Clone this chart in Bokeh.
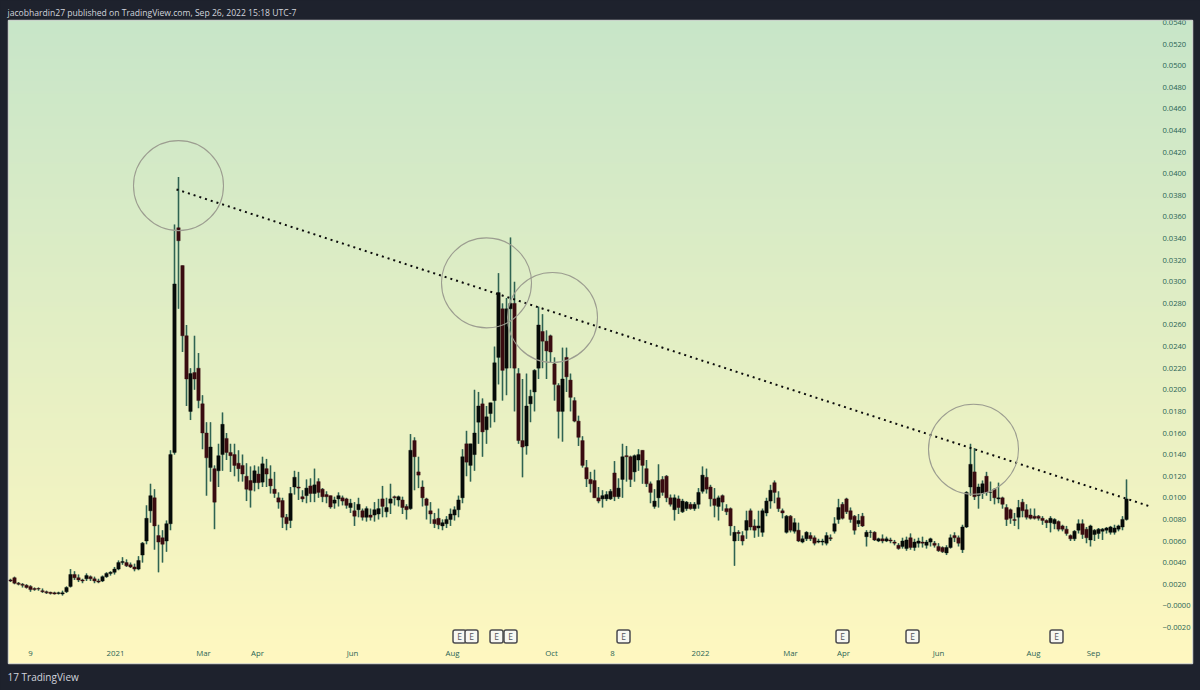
import numpy as np
from bokeh.plotting import figure
from bokeh.models import ColumnDataSource, FixedTicker, Title, LinearAxis
from bokeh.core.properties import value
from bokeh.embed import file_html
from bokeh.resources import INLINE

HEADER = "jacobhardin27 published on TradingView.com, Sep 26, 2022 15:18 UTC-7"
FOOTER = "17 TradingView"
UNIT = 0.001

opens = [2.4,2.6,2.1,2.0,1.9,1.8,1.6,1.6,1.4,1.3, 1.25,1.2,1.15,1.1,1.3,1.8,2.9,2.6,2.4,2.5,
 2.7,2.5,2.3,2.3,2.7,3.0,3.1,3.4,4.0,4.0, 3.8,3.6,3.4,4.7,6.0,8.8,10,6.5,6.3,6.0,
 7.6,14.2,35,31.5,25,18,21.6,22,18.7,16, 12.8,12.7,12.5,14,15.5,14.2,14,13.2,13,12,
 11.6,11.4,12.2,11.45,12.7,11.75,10.8,10,9.75,8.2, 7.9,11,11,10.1,10.2,11.1,10.4,11.5,10.8,10.3,
 10.2,9.5,9.9,10,9.9,9.1,8.8,8.9,8.8,8.2, 8.4,8.4,8.5,9.9,8.7,9.5,10.1,9.8,9.8,9.2,
 9,15.3,12.4,11,9.9,8.8,8,8.1,7.4,7.6, 8.0,8.4,8.9,10,15,13,14,17,18.7,16.3,
 17.8,19,23,27.5,22,27.5,28,21.5,15.3,14.8, 18.7,19.8,22,25.4,24.5,25,22.4,20.4,18,23,
 20.9,19,17.1,15.3,12.8,11.7,11.6,10,9.9,9.9, 9.9,12.3,10.1,11.7,13.9,13.8,12.4,13.5,14.4,12.7,
 11.3,9.2,10,11.7,12,10,8.9,9.9,8.7,9, 9.4,9,9.4,10.6,11.9,11,9.9,9.2,10.2,9,
 9,6,6.8,6.5,7,8.8,7.4,7.2,6.8,8.6, 9.7,11.4,10,8.8,6.8,8.3,6.9,7,5.9,6.2,
 6.5,6.3,5.9,5.9,5.8,6.3,6.9,8,9.4,9.9, 8.8,8.3,7.6,8.3,6.4,6.8,6.8,6,6.2,6,
 6.1,5.9,5.6,5.5,5.3,6.3,5.4,5.8,5.9,5.6, 5.9,5.8,5.5,5.4,4.9,5.4,6.5,6.3,5.2,7.3,
 11,12.4,10.2,10.4,12,10.5,10.8,9.9,10,9.1, 8.9,8,8.2,9.6,8.9,8.4,8.3,8.3,8.1,7.9,
 7.7,7.6,7.8,7.4,7.1,6.5,6.2,7,7.6,7.1, 6.1,6.6,6.7,6.9,7,6.8,6.8,7.1,7.3,8]

highs = [2.5,2.7,2.2,2.1,2.0,1.9,1.7,1.7,1.6,1.4, 1.3,1.3,1.3,1.4,1.8,3.4,3.2,2.9,2.5,3.0,
 2.8,2.7,2.5,2.8,3.1,3.2,3.6,4.2,4.5,4.3, 4.0,3.9,4.6,5.9,9.3,11.3,10.8,7.5,7.0,7.9,
 14.4,35.3,39.7,31.5,26,22,25,23.4,19.5,17, 17,13,15,17.9,16,15,15,14.4,14,13.2,
 12.9,13,12.9,13.8,13.6,13,12.4,10.5,10,8.5, 11,12.5,12.4,10.7,11.7,11.8,12.7,11.8,10.9,10.6,
 10.2,10.1,10.5,10.2,10,9.9,9.6,10,9,9.2, 9,9.6,9.9,11.1,10,11.3,10.2,10.2,10.1,9.4,
 15.9,15.6,13.8,11.6,10,9.6,8.6,9,8.0,8.3, 9.0,9.2,10.2,14.5,16.2,15,20,19.8,19.2,18.5,
 18.8,24,30.8,28,28.5,34.1,30,22,21,21.5, 20,21.9,27.7,27,25.5,25.1,23,20.6,23.9,23.9,
 21.5,19.3,17.6,15.7,13.5,12.4,12.6,11,10.7,10.6, 10.8,13.4,11.8,15,14.8,13.9,14,14.5,14.4,13.5,
 11.5,10.8,13.1,12,12.1,10.3,10.3,10.2,9.9,9.7, 9.6,9.6,10.9,12.9,12.7,11.2,10.9,10.2,10.3,9.4,
 9.1,7.4,7,6.9,8.8,9,8,8.8,9,10, 11.2,11.6,10.6,9,8.4,8.4,8.1,7.7,6.5,6.9,
 6.8,6.5,6.2,6.2,6.8,6.6,8.2,9.9,9.6,10, 9.1,8.4,8.5,8.6,7,7,6.9,6.3,6.6,6.4,
 6.3,6.1,5.8,6.3,6.4,6.7,6.2,6.3,6.4,6.1, 6.3,6,5.8,5.5,5.6,6.6,6.8,6.5,7.5,10.6,
 15,14.6,11.3,11.6,12.4,11.5,10.9,11.4,10.1,9.4, 9,8.6,9.8,9.9,9.4,9,9,8.4,8.3,8,
 8.3,8.1,7.9,7.5,7.4,6.6,7,8,8,7.3, 7.5,7.1,7.2,7.2,7.3,7.4,7.5,7.5,8.3,11.7]

lows = [2.2,2.0,1.9,1.7,1.6,1.3,1.4,1.4,1.2,1.1, 1.05,1.05,1.05,0.95,1.2,1.7,2.4,2.2,2.1,2.3,
 2.3,2.1,2.1,2.2,2.6,2.8,2.9,3.3,3.8,3.6, 3.5,3.2,3.3,4.0,5.7,7.7,5.2,3.1,4.0,5.0,
 7.0,14,27.5,23.5,18.5,17.2,20,18.3,14.5,10.2, 11.5,7.1,11,12.5,13.5,12.4,12,11.5,11.5,9.7,
 9.1,10.6,10.8,11,11,10.4,10,9,7.2,7, 7.2,10.3,9.8,9.6,9.5,9.6,9.6,10,9.6,9.5,
 9,9,9.2,9.3,9,8.6,7.4,8.2,7.9,7.8, 7.9,7.8,8,8.2,8.2,8.5,9.3,9.2,8.5,8,
 8.9,10.7,10.9,9.2,8,7.6,7.2,7.1,7.0,7.2, 7.4,7.9,8.2,9.5,12,11.5,12.5,15,13.8,15,
 16.5,17,20.5,19,19.5,22,18,15,11.9,14, 17,18,21,22,21,22.5,19,15.5,15.2,19.8,
 18,17,14.8,12.8,11,10.5,10,9.5,9.1,9.7, 9.8,9.7,9.9,10,11.5,11,11.5,12.5,11.3,11,
 9.5,9,9.1,10.2,9.6,9.2,7.9,8.5,8.6,8.8, 8.9,8.8,9,10.4,10.4,9.2,8.2,7.9,8.8,8.4,
 6.5,3.7,6,5.6,6.2,7,6.3,6.4,6.4,8.3, 9,9.5,8.7,8.1,6.7,6.8,6.7,5.9,5.8,6,
 6,5.6,5.8,5.6,5.6,6,6.7,7.6,8,8.5, 7.7,6.6,7.3,7.3,5.5,6.3,6,5.9,5.8,5.9,
 5.8,5.6,5.2,5.3,5.1,5.2,5.1,5.4,5.4,5.3, 5.5,5.4,5,4.9,4.7,5.3,5.9,5.5,4.9,7.2,
 10.2,9.8,9,9.9,10.2,9.7,9.4,9.5,9,7.4, 7.6,7.4,7.1,8.2,8,8,8,7.9,7.5,7.2,
 6.8,7.1,6.9,6.9,6.5,6,6,6.7,6.2,5.8, 5.5,6,6.2,6.1,6.7,6.6,6.6,6.9,7,7.9]

closes = [2.3,2.1,2.0,1.9,1.7,1.5,1.5,1.55,1.3,1.2, 1.15,1.1,1.2,1.2,1.7,2.9,2.6,2.4,2.3,2.8,
 2.5,2.3,2.2,2.7,3.0,3.1,3.4,4.0,4.1,3.7, 3.6,3.4,4.2,5.8,8.1,10.2,7.4,5.9,5.7,7.6,
 14.0,29.8,33.8,25,21,21.5,21,19,16,13.7, 14.7,9.6,13.9,16.8,14.2,13.9,13,12.7,12.2,10.8,
 10.7,12.5,11.4,13.15,12.2,11.1,10.4,9.6,8.2,7.6, 10.4,11.9,10.9,9.9,10.9,10.4,11.2,10.5,10.1,10.1,
 9.15,9.8,10.2,9.7,9.3,9.5,8.3,9.4,8.2,9, 8.2,8.9,9,9.2,9.1,9.9,10,10.1,9.1,8.9,
 14.4,13.8,12.1,10,9.3,8.5,7.6,7.5,7.7,8.0, 8.5,8.9,9.8,13.8,13.3,15,16,18.5,16.1,17.5,
 18.8,22.5,29,21.8,27.5,28,22,15.3,14.7,18.5, 19.4,21.8,26,24.5,23.6,23.5,20.5,18,21,21.2,
 19.3,17.1,15.6,13,11.75,11.3,10,9.7,10.2,10.3, 10.6,10.1,10.9,13.8,13.8,11.7,13.9,14,13,11.3,
 10.5,9.7,11.6,10.5,10,9.4,10,9.1,9.7,9.6, 9,9.4,10.5,12.1,10.8,9.9,9.3,10,9.6,8.7,
 7.4,6.8,6.7,6,7.9,7.3,7,7.4,8.8,9.7, 10.7,10.5,9,8.6,8.3,7,7.7,6,6.2,6.8,
 6.2,5.8,6,6,6.5,6.2,7.6,9.1,8.1,8.7, 8,7,7.9,7.4,6.8,6.8,6.1,6.2,6,6.2,
 6,5.8,5.3,6,6.1,5.4,5.9,6,5.8,5.9, 6.2,5.6,5.1,5,5.4,6.3,6.3,5.8,7.3,10.5,
 13.1,10.1,11,11.3,10.5,10.5,10,10,9.4,8, 8.1,7.9,9.1,8.8,8.2,8.1,8.1,8.1,7.9,7.7,
 8.1,8,7.1,7.1,6.7,6.2,6.9,7.6,6.6,6.3, 7.4,7,7.1,7.1,7.2,7.3,7.2,7.4,8,9.9]

assert len(opens) == len(highs) == len(lows) == len(closes), (len(opens), len(highs), len(lows), len(closes))

x_tick_pos = [5, 26.25, 48.25, 61.75, 85.5, 110.5, 135.25, 150.5, 172.5, 195, 208.25, 232, 255.75, 270.75]
x_tick_labels = ["9", "2021", "Mar", "Apr", "Jun", "Aug", "Oct", "8", "2022", "Mar", "Apr", "Jun", "Aug", "Sep"]
y_ticks = [-0.002, 0.0, 0.002, 0.004, 0.006, 0.008, 0.010, 0.012, 0.014, 0.016, 0.018, 0.020, 0.022, 0.024,
           0.026, 0.028, 0.030, 0.032, 0.034, 0.036, 0.038, 0.040, 0.042, 0.044, 0.046, 0.048, 0.050, 0.052, 0.054]
y_tick_labels = ["\u22120.0020", "\u22120.0000"] + ["%.4f" % t for t in y_ticks[2:]]

trend_idx = [41.5, 285]
trend_price = [0.03855, 0.00919]
circle_idx = [42, 119, 135.5, 240.75]
circle_price = [0.0389, 0.0299, 0.0267, 0.0145]
earn_idx = [112.25, 115.25, 121.5, 125, 153.25, 208, 225.5, 261.5]
earn_price = -0.00284

DARK = "#1e222d"
X_RANGE = (-0.5, 295.5)
Y_RANGE = (-0.00534, 0.05419)

p = figure(width=1200, height=690, output_backend="svg", toolbar_location=None,
           x_range=X_RANGE, y_range=Y_RANGE, x_axis_type=None, y_axis_type=None,
           min_border_left=8, min_border_right=8, min_border_top=20, min_border_bottom=27,
           background_fill_color="#fff8c2", border_fill_color=DARK,
           outline_line_color="#c9ccca", outline_line_width=1.5)
p.grid.visible = False

# background gradient
top, bot = np.array([200, 230, 201]), np.array([255, 248, 192])
n = 256
rows = []
for k in range(n):
    t = k / (n - 1)
    r, g, b = (bot * (1 - t) + top * t).astype(int)
    rows.append(255 << 24 | int(b) << 16 | int(g) << 8 | int(r))
img = np.array(rows, dtype=np.uint32).reshape(n, 1)
p.image_rgba(image=[img], x=X_RANGE[0], y=Y_RANGE[0], dw=X_RANGE[1] - X_RANGE[0], dh=Y_RANGE[1] - Y_RANGE[0])

# candles
idx = list(range(len(opens)))
o = [v * UNIT for v in opens]
h = [v * UNIT for v in highs]
l = [v * UNIT for v in lows]
c = [v * UNIT for v in closes]
cols = ["#070b09" if cc >= oo else "#3a0c11" for oo, cc in zip(o, c)]
src = ColumnDataSource(dict(x=idx, o=o, h=h, l=l, c=c, col=cols))
p.segment("x", "h", "x", "l", source=src, line_color="#3a6f5d", line_width=2.6, line_alpha=0.38)
p.segment("x", "h", "x", "l", source=src, line_color="#2f6352", line_width=1)
p.vbar("x", 0.85, "o", "c", source=src, fill_color="col", line_color="col", line_width=0.4)

# trend line and circles
p.line(trend_idx, trend_price, line_color="#0c0c0c", line_width=2, line_dash="2 4")
p.scatter(circle_idx, circle_price, marker="circle", size=90, fill_alpha=0, line_color="#9c9d90", line_width=1.1)

# earnings marks
ex = earn_idx
ey = [earn_price] * len(ex)
p.rect(ex, ey, width=13, height=13, width_units="screen", height_units="screen", border_radius=2,
       fill_color="#f7f7f2", line_color="#4b4b4f", line_width=1.5)
p.text(ex, ey, text=["E"] * len(ex), text_align="center", text_baseline="middle",
       text_font=value("Open Sans"), text_font_size="8.5px", text_color="#55555a")

# axes painted inside the frame, as on the original chart
tick_y = LinearAxis(fixed_location=286, ticker=FixedTicker(ticks=y_ticks),
                    major_label_overrides=dict(zip(y_ticks, y_tick_labels)),
                    major_tick_line_color=None, minor_tick_line_color=None, axis_line_color=None,
                    major_label_standoff=2, major_label_text_font="Open Sans",
                    major_label_text_font_size="7.6px", major_label_text_color="#2a6455")
p.add_layout(tick_y, "right")
tick_x = LinearAxis(fixed_location=-0.00325, ticker=FixedTicker(ticks=x_tick_pos),
                    major_label_overrides=dict(zip(x_tick_pos, x_tick_labels)),
                    major_tick_line_color=None, minor_tick_line_color=None, axis_line_color=None,
                    major_label_standoff=1, major_label_text_font="Open Sans",
                    major_label_text_font_size="7.8px", major_label_text_color="#2a6455")
p.add_layout(tick_x, "below")

# publisher strip on the dark border
p.add_layout(Title(text=HEADER, align="left", offset=-1, standoff=3, text_font="Open Sans",
                   text_font_size="8.6px", text_font_style="normal", text_color="#d1d4dc"), "above")
p.add_layout(Title(text=FOOTER, align="left", offset=-1, standoff=8, text_font="Open Sans",
                   text_font_size="10px", text_font_style="normal", text_color="#d1d4dc"), "below")

html = file_html(p, INLINE)
html = html.replace("<head>", "<head><style>html,body{margin:0;padding:0;background:#1e222d;overflow:hidden}</style>", 1)
open("out.html", "w").write(html)
